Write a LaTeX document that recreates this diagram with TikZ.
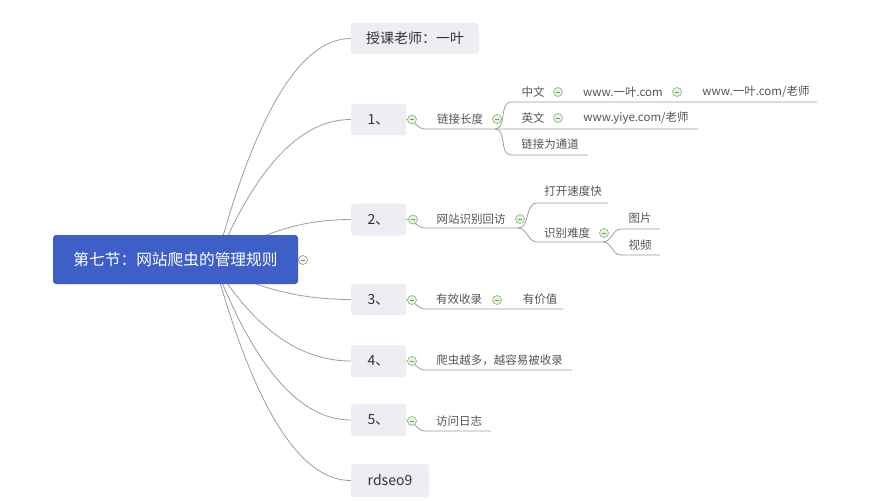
\documentclass[tikz,border=0pt]{standalone}
\usepackage{fontspec}
\setmainfont{Noto Sans CJK SC}
\usetikzlibrary{backgrounds}
\pgfdeclarelayer{paper}
\pgfsetlayers{paper,background,main}
\definecolor{rootblue}{HTML}{3F5FC8}
\definecolor{boxgray}{HTML}{EDEDF4}
\definecolor{linegray}{HTML}{9E9E9E}
\definecolor{icongreen}{HTML}{8DBF7A}
\definecolor{iconfill}{HTML}{E8F3E1}
\definecolor{rooticon}{HTML}{9A9A86}
\definecolor{txt}{HTML}{333333}
\definecolor{leaftxt}{HTML}{555555}
\begin{document}
\begin{tikzpicture}[x=1pt,y=-1pt,
  rootbox/.style={fill=rootblue, rounded corners=3pt, minimum width=245pt, minimum height=49pt, text=white, font=\fontsize{15.7}{18}\selectfont, inner sep=0pt},
  topicbox/.style={fill=boxgray, rounded corners=3pt, minimum height=31pt, text=txt, font=\fontsize{14}{16}\selectfont, inner sep=0pt},
  leaf/.style={text=leaftxt, font=\fontsize{11.5}{13}\selectfont, inner sep=0pt},
  conn/.style={draw=linegray, line width=0.8pt},
  collapse/.style={circle, draw=icongreen, fill=iconfill, line width=0.7pt, minimum size=9pt, inner sep=0pt,
    path picture={\draw[icongreen!80!black, line width=0.7pt] ([xshift=-2.2pt]path picture bounding box.center) -- ([xshift=2.2pt]path picture bounding box.center);}},
  rootcollapse/.style={circle, draw=rooticon, fill=white, line width=0.7pt, minimum size=9pt, inner sep=0pt,
    path picture={\draw[rooticon!80!black, line width=0.7pt] ([xshift=-2.2pt]path picture bounding box.center) -- ([xshift=2.2pt]path picture bounding box.center);}},
]
\useasboundingbox (0,0) rectangle (890,500);
\begin{pgfonlayer}{paper}
  \fill[white] (0,0) rectangle (890,500);
\end{pgfonlayer}

% main topics
\node[rootbox] (root) at (175.5,259.5) {第七节：网站爬虫的管理规则};
\node[topicbox, minimum width=128pt] (t0) at (415,38.5) {授课老师：一叶};
\node[topicbox, minimum width=55pt] (n1) at (378.5,119.5) {1、};
\node[topicbox, minimum width=55pt, minimum height=32pt] (n2) at (378.5,219.5) {2、};
\node[topicbox, minimum width=55pt] (n3) at (378.5,299.5) {3、};
\node[topicbox, minimum width=55pt, minimum height=32pt] (n4) at (378.5,361) {4、};
\node[topicbox, minimum width=55pt, minimum height=32pt] (n5) at (378.5,420) {5、};
\node[topicbox, minimum width=78pt, minimum height=33pt] (n6) at (390,480.5) {rdseo9};

% sub topics
\node[leaf] (a1) at (460,119) {链接长度};
\node[leaf] (a11) at (533,92) {中文};
\node[leaf] (a111) at (623,92) {www.一叶.com};
\node[leaf] (a1111) at (756,92) {www.一叶.com/老师};
\node[leaf] (a12) at (533,118) {英文};
\node[leaf] (a121) at (636,118) {www.yiye.com/老师};
\node[leaf] (a13) at (550,144) {链接为通道};
\node[leaf] (b1) at (471,219) {网站识别回访};
\node[leaf] (b11) at (573,191) {打开速度快};
\node[leaf] (b12) at (567,233) {识别难度};
\node[leaf] (b121) at (640,218) {图片};
\node[leaf] (b122) at (640,245) {视频};
\node[leaf] (c1) at (459,299) {有效收录};
\node[leaf] (c11) at (540,299) {有价值};
\node[leaf] (d1) at (499.5,360) {爬虫越多，越容易被收录};
\node[leaf] (e1) at (459,421) {访问日志};

% underline ends
\coordinate (u1a) at (425,129);   \coordinate (u1j) at (495,129);   \coordinate (u1b) at (698,129);
\coordinate (u2a) at (511,102);   \coordinate (u2b) at (817,102);
\coordinate (u3a) at (511,155);   \coordinate (u3b) at (588,155);
\coordinate (u4a) at (425,228);   \coordinate (u4b) at (518,228);
\coordinate (u5a) at (537,203);   \coordinate (u5b) at (608,203);
\coordinate (u6a) at (537,242);   \coordinate (u6b) at (603,242);
\coordinate (u7a) at (621,229);   \coordinate (u7b) at (660,229);
\coordinate (u8a) at (621,255);   \coordinate (u8b) at (660,255);
\coordinate (u9a) at (425,309);   \coordinate (u9b) at (563,309);
\coordinate (u10a) at (425,370);  \coordinate (u10b) at (572,370);
\coordinate (u11a) at (425,431);  \coordinate (u11b) at (491,431);
\coordinate (rsrc) at (215,265);

% collapse icons
\node[rootcollapse] (ic0) at (303,260) {};
\node[collapse] (ic1) at (412,119.5) {};
\node[collapse] (ic2) at (413,219.5) {};
\node[collapse] (ic3) at (412,300) {};
\node[collapse] (ic4) at (412,361) {};
\node[collapse] (ic5) at (412,421) {};
\node[collapse] (icA) at (497,119) {};
\node[collapse] (icB) at (520,219) {};
\node[collapse] (icC) at (497,300) {};
\node[collapse] (icD) at (558,92) {};
\node[collapse] (icE) at (558,118) {};
\node[collapse] (icF) at (677,92) {};
\node[collapse] (icG) at (604,233) {};

\begin{pgfonlayer}{background}
  % root connectors
  \draw[conn] (rsrc) .. controls (255,114) and (300,38.5) .. (t0.west);
  \draw[conn] (rsrc) .. controls (255,168) and (300,119.5) .. (n1.west);
  \draw[conn] (rsrc) .. controls (255,234) and (300,219.5) .. (n2.west);
  \draw[conn] (rsrc) .. controls (255,288) and (300,299.5) .. (n3.west);
  \draw[conn] (rsrc) .. controls (255,329) and (300,361) .. (n4.west);
  \draw[conn] (rsrc) .. controls (255,368) and (300,420) .. (n5.west);
  \draw[conn] (rsrc) .. controls (255,409) and (300,480.5) .. (n6.west);
  % branch 1
  \draw[conn] (n1.east) to[out=0,in=180] (u1a) -- (u1b);
  \draw[conn] (u1j) to[out=0,in=180] (u2a) -- (u2b);
  \draw[conn] (u1j) to[out=0,in=180] (u3a) -- (u3b);
  % branch 2
  \draw[conn] (n2.east) to[out=0,in=180] (u4a) -- (u4b);
  \draw[conn] (u4b) to[out=0,in=180] (u5a) -- (u5b);
  \draw[conn] (u4b) to[out=0,in=180] (u6a) -- (u6b);
  \draw[conn] (u6b) to[out=0,in=180] (u7a) -- (u7b);
  \draw[conn] (u6b) to[out=0,in=180] (u8a) -- (u8b);
  % branches 3-5
  \draw[conn] (n3.east) to[out=0,in=180] (u9a) -- (u9b);
  \draw[conn] (n4.east) to[out=0,in=180] (u10a) -- (u10b);
  \draw[conn] (n5.east) to[out=0,in=180] (u11a) -- (u11b);
\end{pgfonlayer}
\end{tikzpicture}
\end{document}
